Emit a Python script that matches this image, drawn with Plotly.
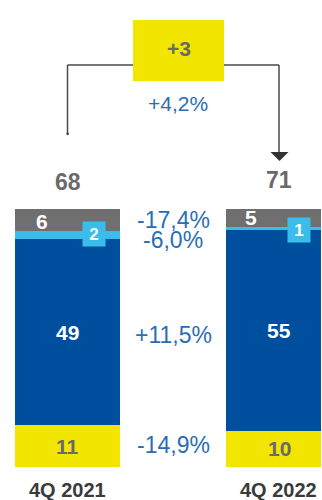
import plotly.graph_objects as go

# ---- data ----
categories = ["4Q 2021", "4Q 2022"]
seg_yellow = [11, 10]
seg_darkblue = [49, 55]
seg_lightblue = [2, 1]
seg_gray = [6, 5]
totals = [68, 71]
delta_abs = "+3"
delta_pct = "+4,2%"
seg_changes = ["-14,9%", "+11,5%", "-6,0%", "-17,4%"]  # yellow, darkblue, lightblue, gray

# ---- style ----
YEL = "#F2E500"
DBL = "#004F9F"
LBL = "#3BBDEC"
GRY = "#6F6F6F"
PCT = "#2A6DB5"
TXTG = "#6A6A6A"
FONT = "Liberation Sans"

W, H = 322, 500
xpos = [0, 1]
BW = 0.5

series = [(seg_yellow, YEL), (seg_darkblue, DBL), (seg_lightblue, LBL), (seg_gray, GRY)]

fig = go.Figure()
for vals, col in series:
    fig.add_trace(go.Bar(x=xpos, y=vals, width=BW, marker=dict(color=col, line=dict(width=0)),
                         hoverinfo="skip", showlegend=False))

# pixel mapping helpers (for decoration only)
px_per_x = 211.5
x0_px = 67.5
xr = [-x0_px / px_per_x, (W - 1 - x0_px) / px_per_x]
ppv = 2.585
base_px = 467
yr = [-(H - base_px) / ppv, base_px / ppv]

def py(p):
    return 1 - p / H

def xd(p):
    return (p - x0_px) / px_per_x

# compute normalized segment midpoints
mids = []  # mids[i][seg]
for i in range(2):
    tot = sum(s[0][i] for s in series)
    cum = 0
    m = []
    for vals, _ in series:
        v = vals[i] / tot * 100
        m.append(cum + v / 2)
        cum += v
    mids.append(m)

ann = []
bold = dict(family=FONT, size=21, color="white")
C = dict(xanchor="center", yanchor="middle", showarrow=False)
# segment labels
for i in range(2):
    ann.append(dict(x=xpos[i], y=mids[i][0], text=f"<b>{seg_yellow[i]}</b>",
                    font=dict(family=FONT, size=21, color=TXTG), **C))
    ann.append(dict(x=xpos[i], y=mids[i][1], text=f"<b>{seg_darkblue[i]}</b>", font=bold, **C))
    ann.append(dict(x=xpos[i] - BW / 2, y=mids[i][3], text=f"<b>{seg_gray[i]}</b>",
                    font=bold, xshift=[27, 25][i], yshift=[-2, 0][i], **C))
# light blue boxed labels
lb_shift = [26.5, 20]
for i in range(2):
    ann.append(dict(x=xpos[i], y=mids[i][2], text=f"<b>{seg_lightblue[i]}</b>",
                    font=dict(family=FONT, size=17, color="white"), bgcolor=LBL,
                    width=22, height=24, borderpad=0, xshift=lb_shift[i], yshift=[1, -1][i], **C))
# totals
for i in range(2):
    ann.append(dict(x=xpos[i], y=100, text=f"<b>{totals[i]}</b>",
                    font=dict(family=FONT, size=23, color=TXTG), yshift=[27, 29][i], **C))
# category labels
for i in range(2):
    ann.append(dict(x=xpos[i], y=py(489.5), yref="paper", text=f"<b>{categories[i]}</b>",
                    font=dict(family=FONT, size=20, color="#3A3A3A"),
                    xshift=[-0.5, -1][i], **C))
# middle percentage labels
pct_shift = [2, -4, -8, -1]
for k in range(4):
    ym = (mids[0][k] + mids[1][k]) / 2
    ann.append(dict(x=0.5, y=ym, text=seg_changes[k],
                    font=dict(family=FONT, size=23, color=PCT), yshift=pct_shift[k], **C))
# top
ann.append(dict(x=xd(178.5), y=py(49), yref="paper", text=f"<b>{delta_abs}</b>",
                font=dict(family=FONT, size=21, color=TXTG), **C))
ann.append(dict(x=xd(178), y=py(104), yref="paper", text=delta_pct,
                font=dict(family=FONT, size=21, color=PCT), **C))

LC = "#4A4A4A"
shapes = [
    dict(type="line", xref="x", yref="paper", x0=0, x1=1, y0=py(65), y1=py(65),
         line=dict(color=LC, width=1.5)),
    dict(type="line", xref="x", yref="paper", x0=0, x1=0, y0=py(65), y1=py(134),
         line=dict(color=LC, width=1.5)),
    dict(type="circle", xref="x", yref="paper", x0=xd(66.3), x1=xd(69.0), y0=py(132.5), y1=py(135.2),
         fillcolor=LC, line=dict(width=0)),
    dict(type="line", xref="x", yref="paper", x0=1, x1=1, y0=py(65), y1=py(153),
         line=dict(color=LC, width=1.5)),
    dict(type="path", xref="x", yref="paper",
         path=f"M {xd(270.5)} {py(152)} L {xd(288.5)} {py(152)} L {xd(279.5)} {py(161)} Z",
         fillcolor="#333333", line=dict(width=0)),
    dict(type="rect", xref="x", yref="paper", x0=xd(133), x1=xd(224), y0=py(81), y1=py(20),
         fillcolor=YEL, line=dict(width=0)),
]

fig.update_layout(
    width=W, height=H, barmode="stack", barnorm="percent",
    margin=dict(l=0, r=1, t=0, b=0),
    paper_bgcolor="white", plot_bgcolor="white",
    xaxis=dict(range=xr, visible=False, fixedrange=True),
    yaxis=dict(range=yr, visible=False, fixedrange=True),
    annotations=ann, shapes=shapes, showlegend=False,
)
fig.write_html("out.html", config={"displayModeBar": False},
               post_script="document.body.style.margin='0';document.body.style.overflow='hidden';")
